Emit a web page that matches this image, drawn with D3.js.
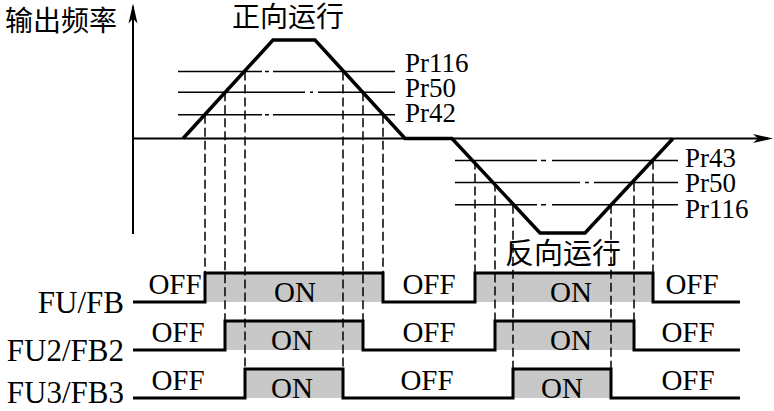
<!DOCTYPE html>
<html>
<head>
<meta charset="utf-8">
<script src="https://cdn.jsdelivr.net/npm/d3@7"></script>
<style>
  body { margin: 0; background: #fff; }
  text { fill: #000; }
  .lat { font-family: "Liberation Serif", "DejaVu Serif", serif; }
  .cjk { font-family: "Noto Sans CJK SC", sans-serif; }
</style>
</head>
<body>
<svg id="chart" width="774" height="411"></svg>
<script>
// output frequency profile (time units, Hz)
const profileTime = [5.0, 14.0, 18.2, 27.2, 31.9, 40.7, 45.2, 54.0];
const profileFreq = [0, 50, 50, 0, 0, -48, -48, 0];

// detection levels
const fwdLevelNames = ['Pr116', 'Pr50', 'Pr42'];
const fwdLevelValues = [34, 23.5, 12];
const revLevelNames = ['Pr43', 'Pr50', 'Pr116'];
const revLevelValues = [-11.2, -22.4, -33.7];

// output signals: edge times [rise, fall, rise, fall]
const signalNames = ['FU/FB', 'FU2/FB2', 'FU3/FB3'];
const signalEdges = [
    [7.2, 25.0, 34.2, 52.0],
    [9.2, 23.0, 36.2, 50.1],
    [11.2, 21.0, 38.0, 47.8]
];
// which level each signal belongs to (forward, reverse)
const signalFwdLevel = [12, 23.5, 34];
const signalRevLevel = [-11.2, -22.4, -33.7];
const stateLabels = ['OFF', 'ON', 'OFF', 'ON', 'OFF'];
const stateLabelTimes = [
    [4.2, 16.2, 29.6, 43.8, 55.9],
    [4.5, 15.9, 29.6, 43.8, 55.5],
    [4.5, 15.9, 29.4, 42.9, 55.5]
];

const svg = d3.select('#chart');
const x = d3.scaleLinear().domain([0, 64]).range([133, 773]);
const y = d3.scaleLinear().domain([-48, 50]).range([233, 40]);
const row = d3.scalePoint().domain(signalNames).range([287.5, 383.5]);
const halfLevel = 14.5;
const nameBase = [11, 11, 5];

const fwdDash = { 'Pr116': '84 3 4 4 600', 'Pr50': '127 5 3 5 600', 'Pr42': '84 3 4 4 600' };
const revDash = { 'Pr43': '82 4 5 6 600', 'Pr50': '125 5 4 5 600', 'Pr116': '82 4 5 6 600' };

// gray ON areas
signalNames.forEach((name, i) => {
    const e = signalEdges[i];
    [[e[0], e[1]], [e[2], e[3]]].forEach(([a, b]) => {
        svg.append('rect')
            .attr('x', x(a)).attr('y', row(name) - halfLevel)
            .attr('width', x(b) - x(a)).attr('height', 2 * halfLevel)
            .attr('fill', '#c8c8c8');
    });
});

// level lines
fwdLevelNames.forEach((n, i) => {
    svg.append('line')
        .attr('x1', x(4.5)).attr('x2', x(26.2))
        .attr('y1', y(fwdLevelValues[i])).attr('y2', y(fwdLevelValues[i]))
        .attr('stroke', '#000').attr('stroke-width', 1.5)
        .attr('stroke-dasharray', fwdDash[n]);
});
revLevelNames.forEach((n, i) => {
    svg.append('line')
        .attr('x1', x(32.2)).attr('x2', x(54.5))
        .attr('y1', y(revLevelValues[i])).attr('y2', y(revLevelValues[i]))
        .attr('stroke', '#000').attr('stroke-width', 1.5)
        .attr('stroke-dasharray', revDash[n]);
});

// dashed projection lines
signalNames.forEach((name, i) => {
    const e = signalEdges[i];
    const lv = [signalFwdLevel[i], signalFwdLevel[i], signalRevLevel[i], signalRevLevel[i]];
    e.forEach((t, k) => {
        svg.append('line')
            .attr('x1', x(t)).attr('x2', x(t))
            .attr('y1', y(lv[k])).attr('y2', row(name) - halfLevel)
            .attr('stroke', '#000').attr('stroke-width', 1.5)
            .attr('stroke-dasharray', '9 4');
    });
});

// axes
const arrow = (tx, ty, angle) => {
    svg.append('path')
        .attr('d', 'M0,0 L-20,-4.5 L-15,0 L-20,4.5 Z')
        .attr('transform', `translate(${tx},${ty}) rotate(${angle})`)
        .attr('fill', '#000');
};
svg.append('line')
    .attr('x1', x(0)).attr('x2', x(63.5))
    .attr('y1', y(0)).attr('y2', y(0))
    .attr('stroke', '#000').attr('stroke-width', 2);
arrow(x(64), y(0), 0);
svg.append('line')
    .attr('x1', x(0)).attr('x2', x(0))
    .attr('y1', y(-48.5)).attr('y2', y(67))
    .attr('stroke', '#000').attr('stroke-width', 2);
arrow(x(0), y(68.5), -90);

// frequency profile
svg.append('path')
    .datum(d3.zip(profileTime, profileFreq))
    .attr('fill', 'none')
    .attr('stroke', '#000')
    .attr('stroke-width', 3.5)
    .attr('stroke-linejoin', 'miter')
    .attr('d', d3.line().x(d => x(d[0])).y(d => y(d[1])));

// signal waveforms
signalNames.forEach((name, i) => {
    const e = signalEdges[i];
    const hi = row(name) - halfLevel, lo = row(name) + halfLevel;
    const pts = [[0, lo], [e[0], lo], [e[0], hi], [e[1], hi], [e[1], lo],
                 [e[2], lo], [e[2], hi], [e[3], hi], [e[3], lo], [60.7, lo]];
    svg.append('path')
        .datum(pts)
        .attr('fill', 'none')
        .attr('stroke', '#000')
        .attr('stroke-width', 3)
        .attr('d', d3.line().x(d => x(d[0])).y(d => d[1]));

    svg.append('text')
        .attr('class', 'lat')
        .attr('x', 124).attr('y', lo + nameBase[i])
        .attr('text-anchor', 'end')
        .attr('font-size', 31)
        .text(name);

    stateLabels.forEach((s, k) => {
        svg.append('text')
            .attr('class', 'lat')
            .attr('x', x(stateLabelTimes[i][k]))
            .attr('y', s === 'OFF' ? hi + 21 : lo)
            .attr('text-anchor', 'middle')
            .attr('font-size', 29)
            .text(s);
    });
});

// level labels
const fwdBase = [72, 97, 122];
fwdLevelNames.forEach((n, i) => {
    svg.append('text').attr('class', 'lat')
        .attr('x', 405).attr('y', fwdBase[i])
        .attr('font-size', 27).text(n);
});
const revBase = [167, 192, 218];
revLevelNames.forEach((n, i) => {
    svg.append('text').attr('class', 'lat')
        .attr('x', 685).attr('y', revBase[i])
        .attr('font-size', 27).text(n);
});

// titles
svg.append('text').attr('class', 'cjk')
    .attr('x', 5).attr('y', 31).attr('font-size', 28).text('输出频率');
svg.append('text').attr('class', 'cjk')
    .attr('x', 232).attr('y', 27).attr('font-size', 28).text('正向运行');
svg.append('text').attr('class', 'cjk')
    .attr('x', 505).attr('y', 264).attr('font-size', 29).text('反向运行');
</script>
</body>
</html>
